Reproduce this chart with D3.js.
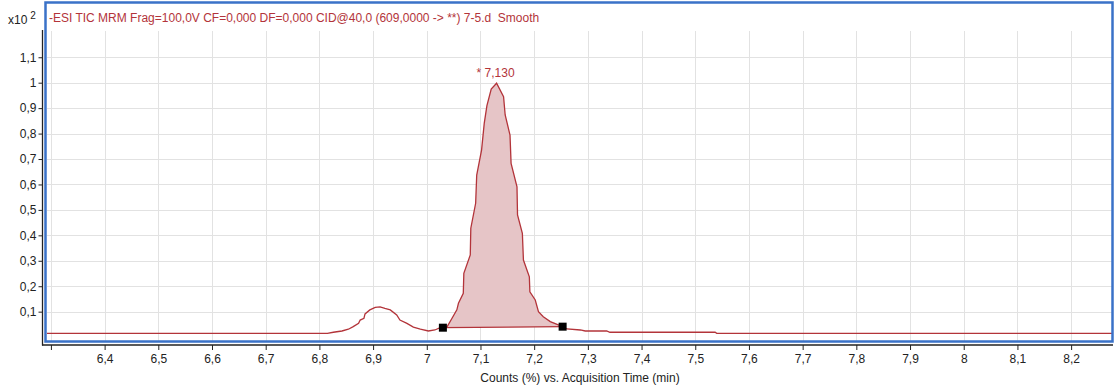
<!DOCTYPE html>
<html>
<head>
<meta charset="utf-8">
<script src="https://cdn.jsdelivr.net/npm/d3@7"></script>
<style>
  html, body { margin: 0; padding: 0; background: #fff; }
  svg { display: block; font-family: "Liberation Sans", Arial, sans-serif; }
</style>
</head>
<body>
<svg id="chart" width="1115" height="390"></svg>
<script>
// ---- data ----
const times = [6.2927, 6.815, 6.826, 6.842, 6.854, 6.863, 6.873, 6.876, 6.883, 6.885, 6.894, 6.904, 6.913,
  6.922, 6.932, 6.944, 6.950, 6.963, 6.975, 6.988, 7.003, 7.015, 7.025, 7.030, 7.038, 7.047, 7.056,
  7.059, 7.068, 7.069, 7.081, 7.082, 7.091, 7.093, 7.102, 7.107, 7.112, 7.120, 7.130, 7.143, 7.146,
  7.155, 7.157, 7.168, 7.169, 7.178, 7.180, 7.191, 7.192, 7.202, 7.208, 7.217, 7.230, 7.245, 7.253,
  7.261, 7.286, 7.295, 7.335, 7.341, 7.537, 7.540, 8.278];
const counts = [0.015, 0.015, 0.019, 0.024, 0.031, 0.041, 0.054, 0.067, 0.074, 0.091, 0.107, 0.117, 0.119,
  0.113, 0.107, 0.087, 0.067, 0.054, 0.039, 0.031, 0.024, 0.028, 0.037, 0.038, 0.041, 0.074, 0.107,
  0.133, 0.172, 0.251, 0.323, 0.428, 0.526, 0.637, 0.735, 0.840, 0.910, 0.975, 0.998, 0.945, 0.873,
  0.794, 0.683, 0.591, 0.480, 0.408, 0.303, 0.237, 0.178, 0.146, 0.100, 0.080, 0.061, 0.048, 0.041,
  0.032, 0.028, 0.024, 0.024, 0.019, 0.019, 0.015, 0.015];
const peakStart = [7.030, 0.037];
const peakEnd = [7.253, 0.041];
const peakApex = [7.130, 0.998];
const peakLabel = "* 7,130";
const xTicks = [6.3, 6.4, 6.5, 6.6, 6.7, 6.8, 6.9, 7.0, 7.1, 7.2, 7.3, 7.4, 7.5, 7.6, 7.7, 7.8, 7.9, 8.0, 8.1, 8.2];
const xTickLabels = ["", "6,4", "6,5", "6,6", "6,7", "6,8", "6,9", "7", "7,1", "7,2", "7,3", "7,4", "7,5", "7,6", "7,7", "7,8", "7,9", "8", "8,1", "8,2"];
const yTicks = [0.1, 0.2, 0.3, 0.4, 0.5, 0.6, 0.7, 0.8, 0.9, 1.0, 1.1];
const yTickLabels = ["0,1", "0,2", "0,3", "0,4", "0,5", "0,6", "0,7", "0,8", "0,9", "1", "1,1"];
const titleText = "-ESI TIC MRM Frag=100,0V CF=0,000 DF=0,000 CID@40,0 (609,0000 -> **) 7-5.d  Smooth";
const xAxisTitle = "Counts (%) vs. Acquisition Time (min)";

// ---- layout ----
const svg = d3.select("#chart");
const plot = { left: 47, right: 1113, top: 31, bottom: 341 };
const x = d3.scaleLinear().domain([6.2927, 8.278]).range([plot.left, plot.right]);
const y = d3.scaleLinear().domain([0, (337.1 - 31) / 254.4]).range([337.1, 31]);

const red = "#b3343a";
const data = times.map((t, i) => [t, counts[i]]);

// gridlines
const grid = svg.append("g");
grid.selectAll("line.vx").data(xTicks).enter().append("line")
  .attr("x1", d => Math.round(x(d)) + 0.5).attr("x2", d => Math.round(x(d)) + 0.5)
  .attr("y1", plot.top).attr("y2", plot.bottom)
  .attr("stroke", "#e2e2e2").attr("stroke-width", 1);
grid.selectAll("line.hy").data(yTicks).enter().append("line")
  .attr("x1", plot.left).attr("x2", plot.right)
  .attr("y1", d => Math.round(y(d)) + 0.5).attr("y2", d => Math.round(y(d)) + 0.5)
  .attr("stroke", "#e2e2e2").attr("stroke-width", 1);

// peak fill (between curve and peak baseline)
const inPeak = data.filter(d => d[0] >= peakStart[0] && d[0] <= peakEnd[0]);
const fillPts = [peakStart, ...inPeak, peakEnd];
svg.append("path")
  .attr("d", d3.line().x(d => x(d[0])).y(d => y(d[1]))(fillPts) + "Z")
  .attr("fill", "#e6c5c7").attr("stroke", "none");
svg.append("line")
  .attr("x1", x(peakStart[0])).attr("y1", y(peakStart[1]))
  .attr("x2", x(peakEnd[0])).attr("y2", y(peakEnd[1]))
  .attr("stroke", red).attr("stroke-width", 1.3);

// trace
svg.append("path")
  .attr("d", d3.line().x(d => x(d[0])).y(d => y(d[1]))(data))
  .attr("fill", "none").attr("stroke", red).attr("stroke-width", 1.3);

// markers
svg.selectAll("rect.mk").data([peakStart, peakEnd]).enter().append("rect")
  .attr("x", d => x(d[0]) - 4).attr("y", d => y(d[1]) - 4)
  .attr("width", 8).attr("height", 8).attr("fill", "#000");

// peak label
svg.append("text")
  .attr("x", x(peakApex[0]) - 1).attr("y", y(peakApex[1]) - 6)
  .attr("text-anchor", "middle").attr("font-size", 12).attr("fill", red)
  .text(peakLabel);

// frame
svg.append("rect")
  .attr("x", 45.5).attr("y", 2.5).attr("width", 1067).attr("height", 339)
  .attr("fill", "none").attr("stroke", "#3a72c8").attr("stroke-width", 2.5);

// title
svg.append("text").attr("x", 49).attr("y", 22).attr("font-size", 12).attr("fill", red)
  .style("white-space", "pre").attr("xml:space", "preserve").text(titleText);

// x10^2
const xl = svg.append("text").attr("x", 8).attr("y", 24).attr("font-size", 12).attr("fill", "#222");
xl.append("tspan").text("x10");
xl.append("tspan").attr("dx", 3).attr("dy", -5).attr("font-size", 10).text("2");

// y axis
const yAxis = d3.axisLeft(y).tickValues(yTicks).tickSize(4).tickSizeOuter(0)
  .tickFormat((d, i) => yTickLabels[i]);
const gy = svg.append("g").attr("transform", "translate(42.5,0)").call(yAxis);
gy.select(".domain").attr("d", "M0,30V345.5").attr("stroke", "#222").attr("stroke-width", 1.3);
gy.selectAll(".tick line").attr("stroke", "#222");
gy.selectAll(".tick text").attr("font-size", 12).attr("fill", "#222").attr("x", -6)
  .attr("font-family", "'Liberation Sans', Arial, sans-serif");

// x axis
const xAxis = d3.axisBottom(x).tickValues(xTicks).tickSize(5).tickSizeOuter(0)
  .tickFormat((d, i) => xTickLabels[i]);
const gx = svg.append("g").attr("transform", "translate(0,345)").call(xAxis);
gx.select(".domain").attr("d", "M42,0H1113").attr("stroke", "#222").attr("stroke-width", 1.3);
gx.selectAll(".tick line").attr("stroke", "#222");
gx.selectAll(".tick text").attr("font-size", 12).attr("fill", "#222").attr("y", 9)
  .attr("font-family", "'Liberation Sans', Arial, sans-serif");

// x axis title
svg.append("text").attr("x", 580).attr("y", 382).attr("text-anchor", "middle")
  .attr("font-size", 12).attr("fill", "#222").text(xAxisTitle);
</script>
</body>
</html>
